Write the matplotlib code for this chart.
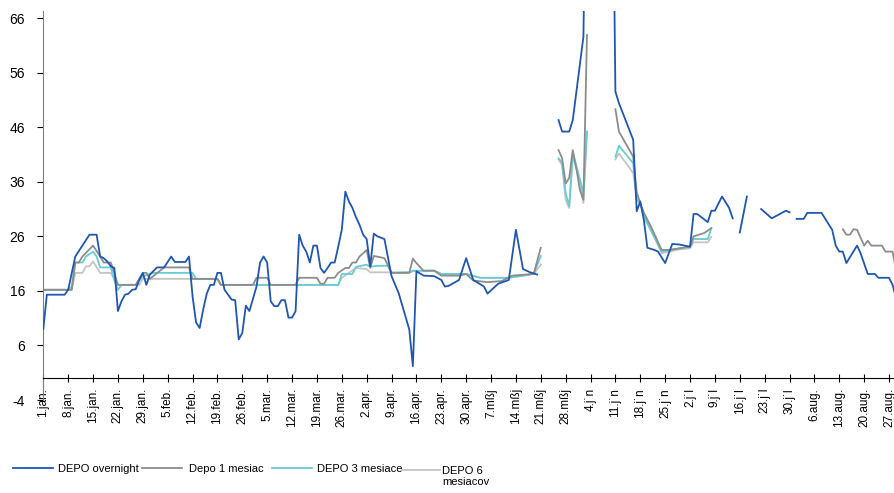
import numpy as np
import matplotlib
matplotlib.use("Agg")
import matplotlib.pyplot as plt
from matplotlib import font_manager as fm

nan = np.nan

# day offsets from 1 Jan 1997 and values
ovn_day = [0, 1, 6, 7, 9, 13, 15, 16, 17, 18, 19, 20, 21, 22, 23, 24, 25, 26, 27, 28, 29, 30, 32, 34, 36, 37, 40, 41,
           42, 43, 44, 45, 46, 47, 48, 49, 50, 51, 53, 54, 55, 56, 57, 58, 60, 61, 62, 63, 64, 65, 66, 67, 68, 69, 70,
           71, 72, 73, 74, 75, 76, 77, 78, 79, 80, 81, 82, 83, 84, 85, 86, 87, 88, 89, 90, 91, 92, 93, 94, 96, 98, 100,
           103, 104, 105, 107, 110, 112, 113, 114, 117, 119, 121, 124, 125, 128, 131, 133, 135, 137, 139, 142,
           145, 146, 148, 149, 151, 152, 153, 160, 161, 162, 166, 167, 168, 169, 170, 172, 173, 175, 177, 179, 182,
           183, 184, 187, 188, 189, 191, 193, 194, 195, 196, 198, 200, 202, 205, 209, 210, 211, 212, 214, 215, 219,
           222, 223, 224, 225, 226, 229, 230, 232, 234, 235, 238, 239, 240]
ovn_val = [9.0, 15.3, 15.3, 16.2, 22.3, 26.3, 26.3, 22.3, 22.0, 21.4, 20.5, 20.2, 12.3, 14.1, 15.3, 15.5, 16.2, 16.3,
           18.0, 19.3, 17.1, 19.0, 20.3, 20.3, 22.3, 21.3, 21.3, 22.3,
           15.0, 10.2, 9.2, 12.6, 15.5, 17.1, 17.1, 19.3, 19.3, 16.2, 14.4, 14.3, 7.1, 8.3, 13.3, 12.3, 16.8, 21.2,
           22.3, 21.2, 14.1, 13.2, 13.2, 14.3, 14.3, 11.1, 11.1,
           12.3, 26.3, 24.3, 23.2, 21.2, 24.3, 24.3, 20.2, 19.3, 20.2, 21.2, 21.2, 24.1, 27.2, 34.2, 32.4, 31.2, 29.5,
           28.1, 26.3, 25.5, 20.5, 26.5, 26.0, 25.5, 18.7, 15.6,
           8.9, 2.2, 19.6, 18.8, 18.7, 18.0, 16.8, 16.9, 18.0, 22.0, 18.0, 16.8, 15.5, 17.3, 18.0, 27.2, 20.0, 19.4,
           19.0, nan,
           47.3, 45.2, 45.2, 47.3, 57.4, 62.6, 110.0, 110.0, 52.5, 50.4, 43.7, 30.6, 32.4, 29.0, 23.9, 23.5, 23.2,
           21.1, 24.6, 24.5, 24.1,
           30.1, 30.1, 28.6, 30.7, 30.7, 33.3, 31.2, 29.3, nan, 26.7, 33.3, nan, 31.0, 29.3, 30.7, 30.4, nan, 29.2,
           29.2, 30.3, 30.3,
           27.2, 24.3, 23.2, 23.2, 21.1, 24.3, 22.9, 19.1, 19.1, 18.4, 18.4, 17.1, 14.6]

m1_day = [0, 8, 9, 10, 11, 14, 16, 17, 19, 20, 21, 26, 28, 29, 30, 34, 41, 42, 49, 50, 59, 60, 63, 64, 71, 72, 77,
          78, 79, 80, 82, 83, 85, 86, 87, 88, 89, 91, 92, 93, 96, 98, 103, 104, 105, 107, 110, 112, 117, 119, 121,
          125, 129, 132, 138, 140, 142,
          145, 146, 147, 148, 149, 150, 151, 152, 153, 155,
          161, 162, 166, 167, 168, 169, 171, 174, 176, 179, 182, 183, 186, 188, 190,
          225, 226, 227, 228, 229, 231, 232, 233, 236, 237, 239, 240]
m1_val = [16.2, 16.2, 21.2, 21.2, 22.3, 24.3, 22.3, 21.2, 21.2, 19.3, 17.1, 17.1, 19.3, 19.3, 18.2, 20.3, 20.3, 18.2,
          18.2, 17.1, 17.1, 18.4, 18.4, 17.1, 17.1, 18.4, 18.4,
          17.3, 17.3, 18.4, 18.4, 19.3, 20.2, 20.2, 21.2, 21.2, 22.3, 23.5, 20.2, 22.4, 22.0, 19.3, 19.3, 21.9, 21.1,
          19.7, 19.7, 18.8, 18.8, 19.1, 17.9,
          17.6, 17.8, 18.8, 19.1, 23.9, nan,
          41.8, 40.3, 35.7, 36.7, 41.8, 38.5, 34.5, 32.7, 62.9, nan,
          49.3, 45.2, 40.6, 34.0, 32.1, 30.3, 27.8, 23.5, 23.5, 23.8, 24.1, 26.0, 26.6, 27.5, nan,
          27.3, 26.3, 26.3, 27.3, 27.2, 24.3, 25.2, 24.3, 24.3, 23.2, 23.2, 19.6]

m3_day = [0, 7, 8, 9, 11, 12, 14, 15, 16, 19, 20, 21, 22, 26, 28, 31, 42, 43, 49, 50, 83, 84, 87, 88, 91, 92, 94,
          97, 98, 103, 104, 110, 112, 119, 123, 131, 138, 140, 142,
          145, 146, 147, 148, 149, 151, 152, 153, 155,
          161, 162, 166, 167, 168, 169, 174, 179, 182, 183, 187, 188]
m3_val = [16.2, 16.2, 16.8, 21.2, 21.2, 22.3, 23.2, 22.3, 20.3, 20.3, 18.0, 16.2, 17.1, 17.1, 18.7, 19.3, 19.3, 18.2,
          18.2, 17.1, 17.1, 19.1, 19.1, 20.4, 20.8, 20.4, 20.6,
          20.6, 19.3, 19.4, 19.7, 19.7, 19.1, 19.1, 18.4, 18.4, 19.1, 22.4, nan,
          40.3, 39.5, 33.9, 31.5, 41.2, 36.5, 33.9, 45.2, nan,
          40.6, 42.6, 39.4, 32.7, 32.1, 29.6, 23.2, 23.8, 24.1, 25.5, 25.5, 27.5]

m6_day = [0, 8, 9, 11, 12, 13, 14, 16, 19, 21, 27, 28, 49, 50, 83, 84, 88, 91, 92, 103, 104, 110, 112, 119, 123,
          131, 138, 140, 142,
          145, 146, 147, 148, 149, 151, 152, 153, 155,
          161, 162, 166, 167, 169, 174, 179, 182, 183, 187, 188]
m6_val = [16.2, 16.2, 19.3, 19.3, 20.5, 20.5, 21.4, 19.3, 19.3, 17.1, 17.1, 18.2, 18.2, 17.1, 17.1, 18.4, 20.2, 20.0,
          19.4, 19.4, 19.6, 19.7, 19.1, 19.1, 18.4,
          18.4, 19.1, 20.8, nan,
          40.1, 39.0, 32.7, 31.2, 40.8, 36.0, 32.1, 45.2, nan,
          40.1, 41.2, 37.6, 33.3, 30.3, 22.9, 23.6, 23.8, 24.9, 24.9, 25.9]

series_names = ["DEPO overnight", "Depo 1 mesiac", "DEPO 3 mesiace", "DEPO 6\nmesiacov"]
series_colors = ["#1F57B0", "#8C8C8C", "#66CDD5", "#C4C4C4"]

tick_labels = ["1.jan.", "8.jan.", "15.jan.", "22.jan.", "29.jan.", "5.feb.", "12.feb.", "19.feb.", "26.feb.",
               "5.mar.", "12.mar.", "19.mar.", "26.mar.", "2.apr.", "9.apr.", "16.apr.", "23.apr.", "30.apr.",
               "7.mßj", "14.mßj", "21.mßj", "28.mßj", "4.j\u02d9n", "11.j\u02d9n", "18.j\u02d9n", "25.j\u02d9n",
               "2.j\u02d9l", "9.j\u02d9l", "16.j\u02d9l", "23.j\u02d9l", "30.j\u02d9l", "6.aug.", "13.aug.",
               "20.aug.", "27.aug."]
y_ticks = [-4, 6, 16, 26, 36, 46, 56, 66]

fam = "Liberation Sans"
for cand in ["Liberation Sans Narrow", "Liberation Sans"]:
    try:
        fm.findfont(cand, fallback_to_default=False)
        fam = cand
        break
    except Exception:
        pass
plt.rcParams["font.family"] = [fam, "DejaVu Sans"]

W, H = 894, 493
fig = plt.figure(figsize=(W / 100, H / 100), dpi=100)
ax = fig.add_axes([43.3 / W, (H - 400) / H, 1 - 43.3 / W, (400 - 11) / H])

for s in ["top", "right"]:
    ax.spines[s].set_visible(False)
ax.spines["bottom"].set_position(("data", 0))
ax.spines["left"].set_color("#7F7F7F")
ax.spines["bottom"].set_color("#000000")

data = [(ovn_day, ovn_val), (m1_day, m1_val), (m3_day, m3_val), (m6_day, m6_val)]
lines = {}
for i in [3, 2, 1, 0]:
    d, v = data[i]
    ln, = ax.plot(d, v, color=series_colors[i], lw=1.3, label=series_names[i], zorder=3 if i == 0 else 2)
    lines[i] = ln

ax.set_xlim(0, 239.4)
ax.set_ylim(-4, 67.3)
ax.set_yticks(y_ticks)
ax.set_yticklabels([str(t) for t in y_ticks], fontsize=10)
ax.set_xticks(np.arange(len(tick_labels)) * 7)
ax.set_xticklabels(tick_labels, rotation=90, fontsize=8.5, va="top", ha="center")
ax.tick_params(axis="y", direction="out", length=4, color="#000000", pad=9)
ax.tick_params(axis="x", direction="inout", length=6, color="#000000", pad=4)

# legend: one entry per box, laid out in a row below the plot
leg_x = [13, 142, 272, 402]
leg_y = [469, 469, 469, 476.5]
leg_pad = [0.45, 0.6, 0.45, 0.2]
for i in range(4):
    lg = fig.legend([lines[i]], [series_names[i]], loc="center left",
                    bbox_to_anchor=(leg_x[i] / W, (H - leg_y[i]) / H), frameon=False, fontsize=8,
                    handlelength=3.6 if i < 3 else 3.4, handletextpad=leg_pad[i], borderpad=0, borderaxespad=0,
                    labelspacing=0)
    if i == 3:
        h = lg.legend_handles[0]
        h.set_ydata(np.asarray(h.get_ydata()) + 4.8)

fig.savefig("out.png", dpi=100)
